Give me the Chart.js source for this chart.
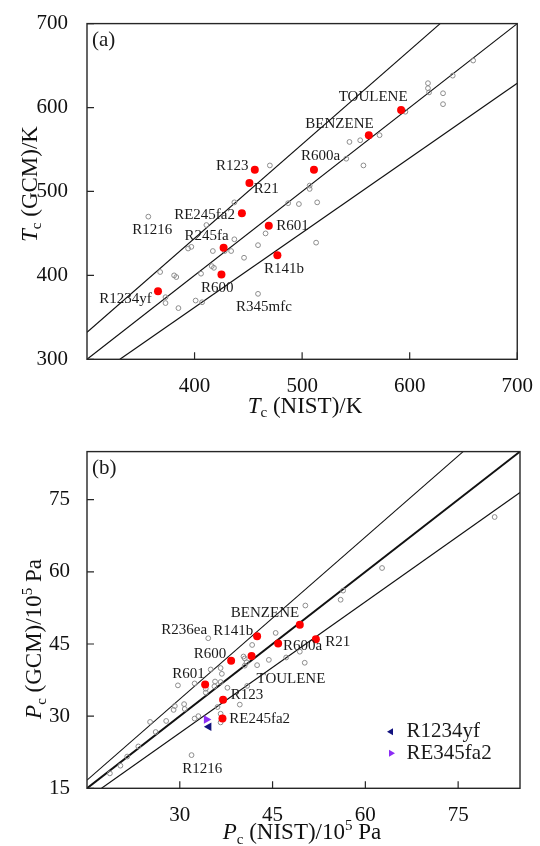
<!DOCTYPE html>
<html><head><meta charset="utf-8">
<script src="https://cdn.jsdelivr.net/npm/chart.js@4.4.0/dist/chart.umd.min.js"></script>
<style>
html,body{margin:0;padding:0;background:#fff;}
#wrap{position:relative;width:540px;height:846px;overflow:hidden;}
#ca{position:absolute;left:0;top:0;width:540px;height:430px;}
#cb{position:absolute;left:0;top:430px;width:540px;height:416px;}
</style></head><body>
<div id="wrap"><canvas id="ca" width="540" height="430"></canvas><canvas id="cb" width="540" height="416"></canvas></div>
<script>
// ---------- Panel (a): critical temperature ----------
const tcXTicks = [400, 500, 600, 700];
const tcYTicks = [300, 400, 500, 600, 700];
const tcRedNames = ['TOULENE','BENZENE','R600a','R123','R21','RE245fa2','R601','R245fa','R141b','R600','R1234yf'];
const tcRedNist  = [592, 562, 511, 456, 451, 444, 469, 427, 477, 425, 366];
const tcRedGcm   = [597, 567, 526, 526, 510, 474, 459, 433, 424, 401, 381];
const tcGreyNist = [357,470,544,554,557,541,507,507,487,497,514,437,411,466,459,437,513,394,397,417,428,434,446,368,381,383,406,416,418,373,373,385,401,407,459,659,640,617,617,618,631,631,596,572];
const tcGreyGcm  = [470,531,559,561,531,539,507,503,486,485,487,487,460,450,436,443,439,432,434,429,429,429,421,404,400,398,402,411,409,374,367,361,370,368,378,656,638,629,623,618,617,604,595,567];
const tcUpperX = [300, 628.3], tcUpperY = [332.2, 700];
const tcMidX   = [300, 700],   tcMidY   = [300, 700];
const tcLowerX = [330.6, 700], tcLowerY = [300, 628.8];
const tcLabelNames = ['TOULENE','BENZENE','R600a','R123','R21','RE245fa2','R1216','R245fa','R601','R141b','R600','R1234yf','R345mfc'];
const tcLabelX = [534, 503, 499, 420, 455, 381, 342, 390.6, 476, 464.6, 406, 311.5, 438.5];
const tcLabelY = [612.5, 580, 541.6, 530, 503, 471.4, 453.5, 446.6, 459, 407.8, 385.3, 371.7, 362.8];

// ---------- Panel (b): critical pressure ----------
const pcXTicks = [30, 45, 60, 75];
const pcYTicks = [15, 30, 45, 60, 75];
const pcRedNames = ['BENZENE','R141b','R600a','R21','R600','TOULENE','R601','R123','RE245fa2'];
const pcRedNist  = [49.4, 42.5, 45.9, 52.0, 38.3, 41.6, 34.1, 37.0, 36.9];
const pcRedGcm   = [49.0, 46.6, 45.1, 46.0, 41.5, 42.5, 36.6, 33.4, 29.5];
const pcGreyNist = [80.9,62.7,56.4,56.0,50.3,45.5,41.7,49.4,50.2,47.2,44.4,42.5,40.3,40.5,40.8,40.5,34.6,35.0,36.6,36.8,35.7,35.6,36.6,37.7,40.9,39.7,36.1,36.6,36.6,32.4,29.7,34.2,34.2,30.7,30.8,29.2,29.0,27.8,25.2,26.1,33.0,32.4,23.3,21.5,20.4,18.7,31.9];
const pcGreyGcm  = [71.4,60.8,56.1,54.2,53.0,47.3,44.8,43.4,41.1,42.2,41.7,40.6,42.4,42.0,41.2,40.5,46.2,39.7,40.0,38.8,37.2,36.2,37.1,35.9,36.3,32.4,31.9,30.5,28.7,36.8,36.4,35.7,34.9,32.5,31.5,32.1,31.3,29.0,28.8,26.7,30.0,29.5,23.7,21.6,19.7,18.1,21.9];
const pcR1234yf = [34.7, 27.8];
const pcRE345fa2 = [34.3, 29.3];
const pcUpperX = [15, 75.8], pcUpperY = [16.7, 85];
const pcMidX   = [15, 85],   pcMidY   = [15, 85];
const pcLowerX = [17.35, 85], pcLowerY = [15, 76.5];
const pcLabelNames = ['BENZENE','R236ea','R141b','R600','R601','R600a','R21','TOULENE','R123','RE245fa2','R1216'];
const pcLabelX = [38.25, 27.0, 35.4, 32.25, 28.8, 46.7, 53.5, 42.4, 38.25, 38.0, 30.4];
const pcLabelY = [51.4, 48.0, 47.65, 42.9, 38.7, 44.5, 45.5, 37.8, 34.4, 29.3, 19.1];

const SERIF = '"Liberation Serif", "Times New Roman", serif';
const pts = (xs, ys) => xs.map((v, i) => ({x: v, y: ys[i]}));

function drawRich(ctx, parts, cx, by, rot) {
  ctx.save();
  ctx.translate(cx, by); ctx.rotate(rot);
  ctx.textAlign = 'left'; ctx.textBaseline = 'alphabetic'; ctx.fillStyle = '#111';
  const fontOf = p => (p.it ? 'italic ' : '') + ((p.sub || p.sup) ? 15 : 23) + 'px ' + SERIF;
  let w = 0;
  parts.forEach(p => { ctx.font = fontOf(p); w += ctx.measureText(p.t).width; });
  let xx = -w / 2;
  parts.forEach(p => {
    ctx.font = fontOf(p);
    const dy = p.sub ? 4.5 : (p.sup ? -9 : 0);
    ctx.fillText(p.t, xx, dy);
    xx += ctx.measureText(p.t).width;
  });
  ctx.restore();
}

function triangle(ctx, x, y, r, rotDeg) {
  ctx.save(); ctx.translate(x, y); ctx.rotate(rotDeg * Math.PI / 180);
  ctx.beginPath();
  ctx.moveTo(0, -r); ctx.lineTo(r * 0.866, r * 0.5); ctx.lineTo(-r * 0.866, r * 0.5); ctx.closePath();
  ctx.fill(); ctx.restore();
}

const decor = {
  id: 'decor',
  afterDatasetsDraw(chart, args, o) {
    const ctx = chart.ctx, a = chart.chartArea, sx = chart.scales.x, sy = chart.scales.y;
    ctx.save();
    ctx.strokeStyle = '#262626'; ctx.lineWidth = 1.4;
    ctx.strokeRect(a.left, a.top, a.right - a.left, a.bottom - a.top);
    ctx.lineWidth = 1.2; ctx.beginPath();
    sy.ticks.forEach(t => { const py = sy.getPixelForValue(t.value); ctx.moveTo(a.left, py); ctx.lineTo(a.left + 7, py); });
    sx.ticks.forEach(t => { const px = sx.getPixelForValue(t.value); ctx.moveTo(px, a.bottom); ctx.lineTo(px, a.bottom - 7); });
    ctx.stroke();
    ctx.fillStyle = '#1a1a1a'; ctx.font = '15px ' + SERIF;
    ctx.textAlign = 'left'; ctx.textBaseline = 'middle';
    o.names.forEach((n, i) => ctx.fillText(n, sx.getPixelForValue(o.lx[i]), sy.getPixelForValue(o.ly[i])));
    ctx.font = '21px ' + SERIF;
    ctx.fillText(o.tag, a.left + 5, a.top + 17);
    if (o.legend) {
      chart.data.datasets.filter(d => d.legendShow).forEach((d, i) => {
        const ly = a.bottom - 56.6 + i * 21.6;
        ctx.fillStyle = d.pointBackgroundColor;
        triangle(ctx, a.right - 129, ly, 4, d.pointRotation);
        ctx.fillStyle = '#1a1a1a'; ctx.font = '21px ' + SERIF;
        ctx.fillText(d.label, a.right - 113.5, ly);
      });
    }
    drawRich(ctx, o.xTitle, o.xTitlePos[0], o.xTitlePos[1], 0);
    drawRich(ctx, o.yTitle, o.yTitlePos[0], o.yTitlePos[1], -Math.PI / 2);
    ctx.restore();
  }
};

function lineDs(xs, ys, w) {
  return {label: 'line', data: pts(xs, ys), showLine: true, borderColor: '#111', borderWidth: w, pointRadius: 0, order: 3};
}

function build(id, c) {
  return new Chart(document.getElementById(id), {
    type: 'scatter',
    data: {datasets: c.datasets},
    options: {
      responsive: false, animation: false, devicePixelRatio: 1,
      layout: {padding: {left: 0, right: c.padRight, top: c.padTop, bottom: 0}},
      plugins: {legend: {display: false}, tooltip: {enabled: false}, decor: c.decor},
      events: [],
      scales: {
        x: {type: 'linear', min: c.xMin, max: c.xMax,
          grid: {display: false}, border: {display: false},
          afterBuildTicks: s => { s.ticks = c.xTicks.map(v => ({value: v})); },
          afterFit: s => { s.height = c.xHeight; },
          ticks: {padding: 7, autoSkip: false, maxRotation: 0, color: '#111', font: {family: SERIF, size: 21}, callback: v => String(v)}},
        y: {type: 'linear', min: c.yMin, max: c.yMax,
          grid: {display: false}, border: {display: false},
          afterBuildTicks: s => { s.ticks = c.yTicks.map(v => ({value: v})); },
          afterFit: s => { s.width = c.yWidth; },
          ticks: {padding: c.yPad, autoSkip: false, color: '#111', font: {family: SERIF, size: 21}, callback: v => String(v)}}
      }
    },
    plugins: [decor]
  });
}

build('ca', {
  xMin: 300, xMax: 700, yMin: 300, yMax: 700, xTicks: tcXTicks, yTicks: tcYTicks,
  padRight: 18, padTop: 15.7, xHeight: 70.7, yWidth: 87, yPad: 11,
  datasets: [
    {label: 'GCM', data: pts(tcRedNist, tcRedGcm), pointRadius: 4, pointBackgroundColor: '#ff0000', pointBorderWidth: 0, order: 0},
    {label: 'others', data: pts(tcGreyNist, tcGreyGcm), pointRadius: 2.4, pointBackgroundColor: 'rgba(0,0,0,0)', pointBorderColor: '#8c8c8c', pointBorderWidth: 1, order: 1},
    lineDs(tcUpperX, tcUpperY, 1.2), lineDs(tcMidX, tcMidY, 1.2), lineDs(tcLowerX, tcLowerY, 1.2)
  ],
  decor: {names: tcLabelNames, lx: tcLabelX, ly: tcLabelY, tag: '(a)',
    xTitle: [{t: 'T', it: true}, {t: 'c', sub: true}, {t: ' (NIST)/K'}], xTitlePos: [305, 412.5],
    yTitle: [{t: 'T', it: true}, {t: 'c', sub: true}, {t: ' (GCM)/K'}], yTitlePos: [36.5, 184]}
});

build('cb', {
  xMin: 15, xMax: 85, yMin: 15, yMax: 85, xTicks: pcXTicks, yTicks: pcYTicks,
  padRight: 20, padTop: 16, xHeight: 57.7, yWidth: 87, yPad: 9,
  datasets: [
    {label: 'R1234yf', legendShow: true, data: pts([pcR1234yf[0]], [pcR1234yf[1]]), pointStyle: 'triangle', pointRotation: -90, pointRadius: 5, pointBackgroundColor: '#12127e', pointBorderWidth: 0, order: 0},
    {label: 'RE345fa2', legendShow: true, data: pts([pcRE345fa2[0]], [pcRE345fa2[1]]), pointStyle: 'triangle', pointRotation: 90, pointRadius: 5, pointBackgroundColor: '#8c2cf5', pointBorderWidth: 0, order: 0},
    {label: 'GCM', data: pts(pcRedNist, pcRedGcm), pointRadius: 4, pointBackgroundColor: '#ff0000', pointBorderWidth: 0, order: 1},
    {label: 'others', data: pts(pcGreyNist, pcGreyGcm), pointRadius: 2.4, pointBackgroundColor: 'rgba(0,0,0,0)', pointBorderColor: '#8c8c8c', pointBorderWidth: 1, order: 2},
    lineDs(pcUpperX, pcUpperY, 1.1), lineDs(pcMidX, pcMidY, 2), lineDs(pcLowerX, pcLowerY, 1.1)
  ],
  decor: {names: pcLabelNames, lx: pcLabelX, ly: pcLabelY, tag: '(b)', legend: true,
    xTitle: [{t: 'P', it: true}, {t: 'c', sub: true}, {t: ' (NIST)/10'}, {t: '5', sup: true}, {t: ' Pa'}], xTitlePos: [302, 409.3],
    yTitle: [{t: 'P', it: true}, {t: 'c', sub: true}, {t: ' (GCM)/10'}, {t: '5', sup: true}, {t: ' Pa'}], yTitlePos: [41, 209]}
});
</script>
</body></html>
